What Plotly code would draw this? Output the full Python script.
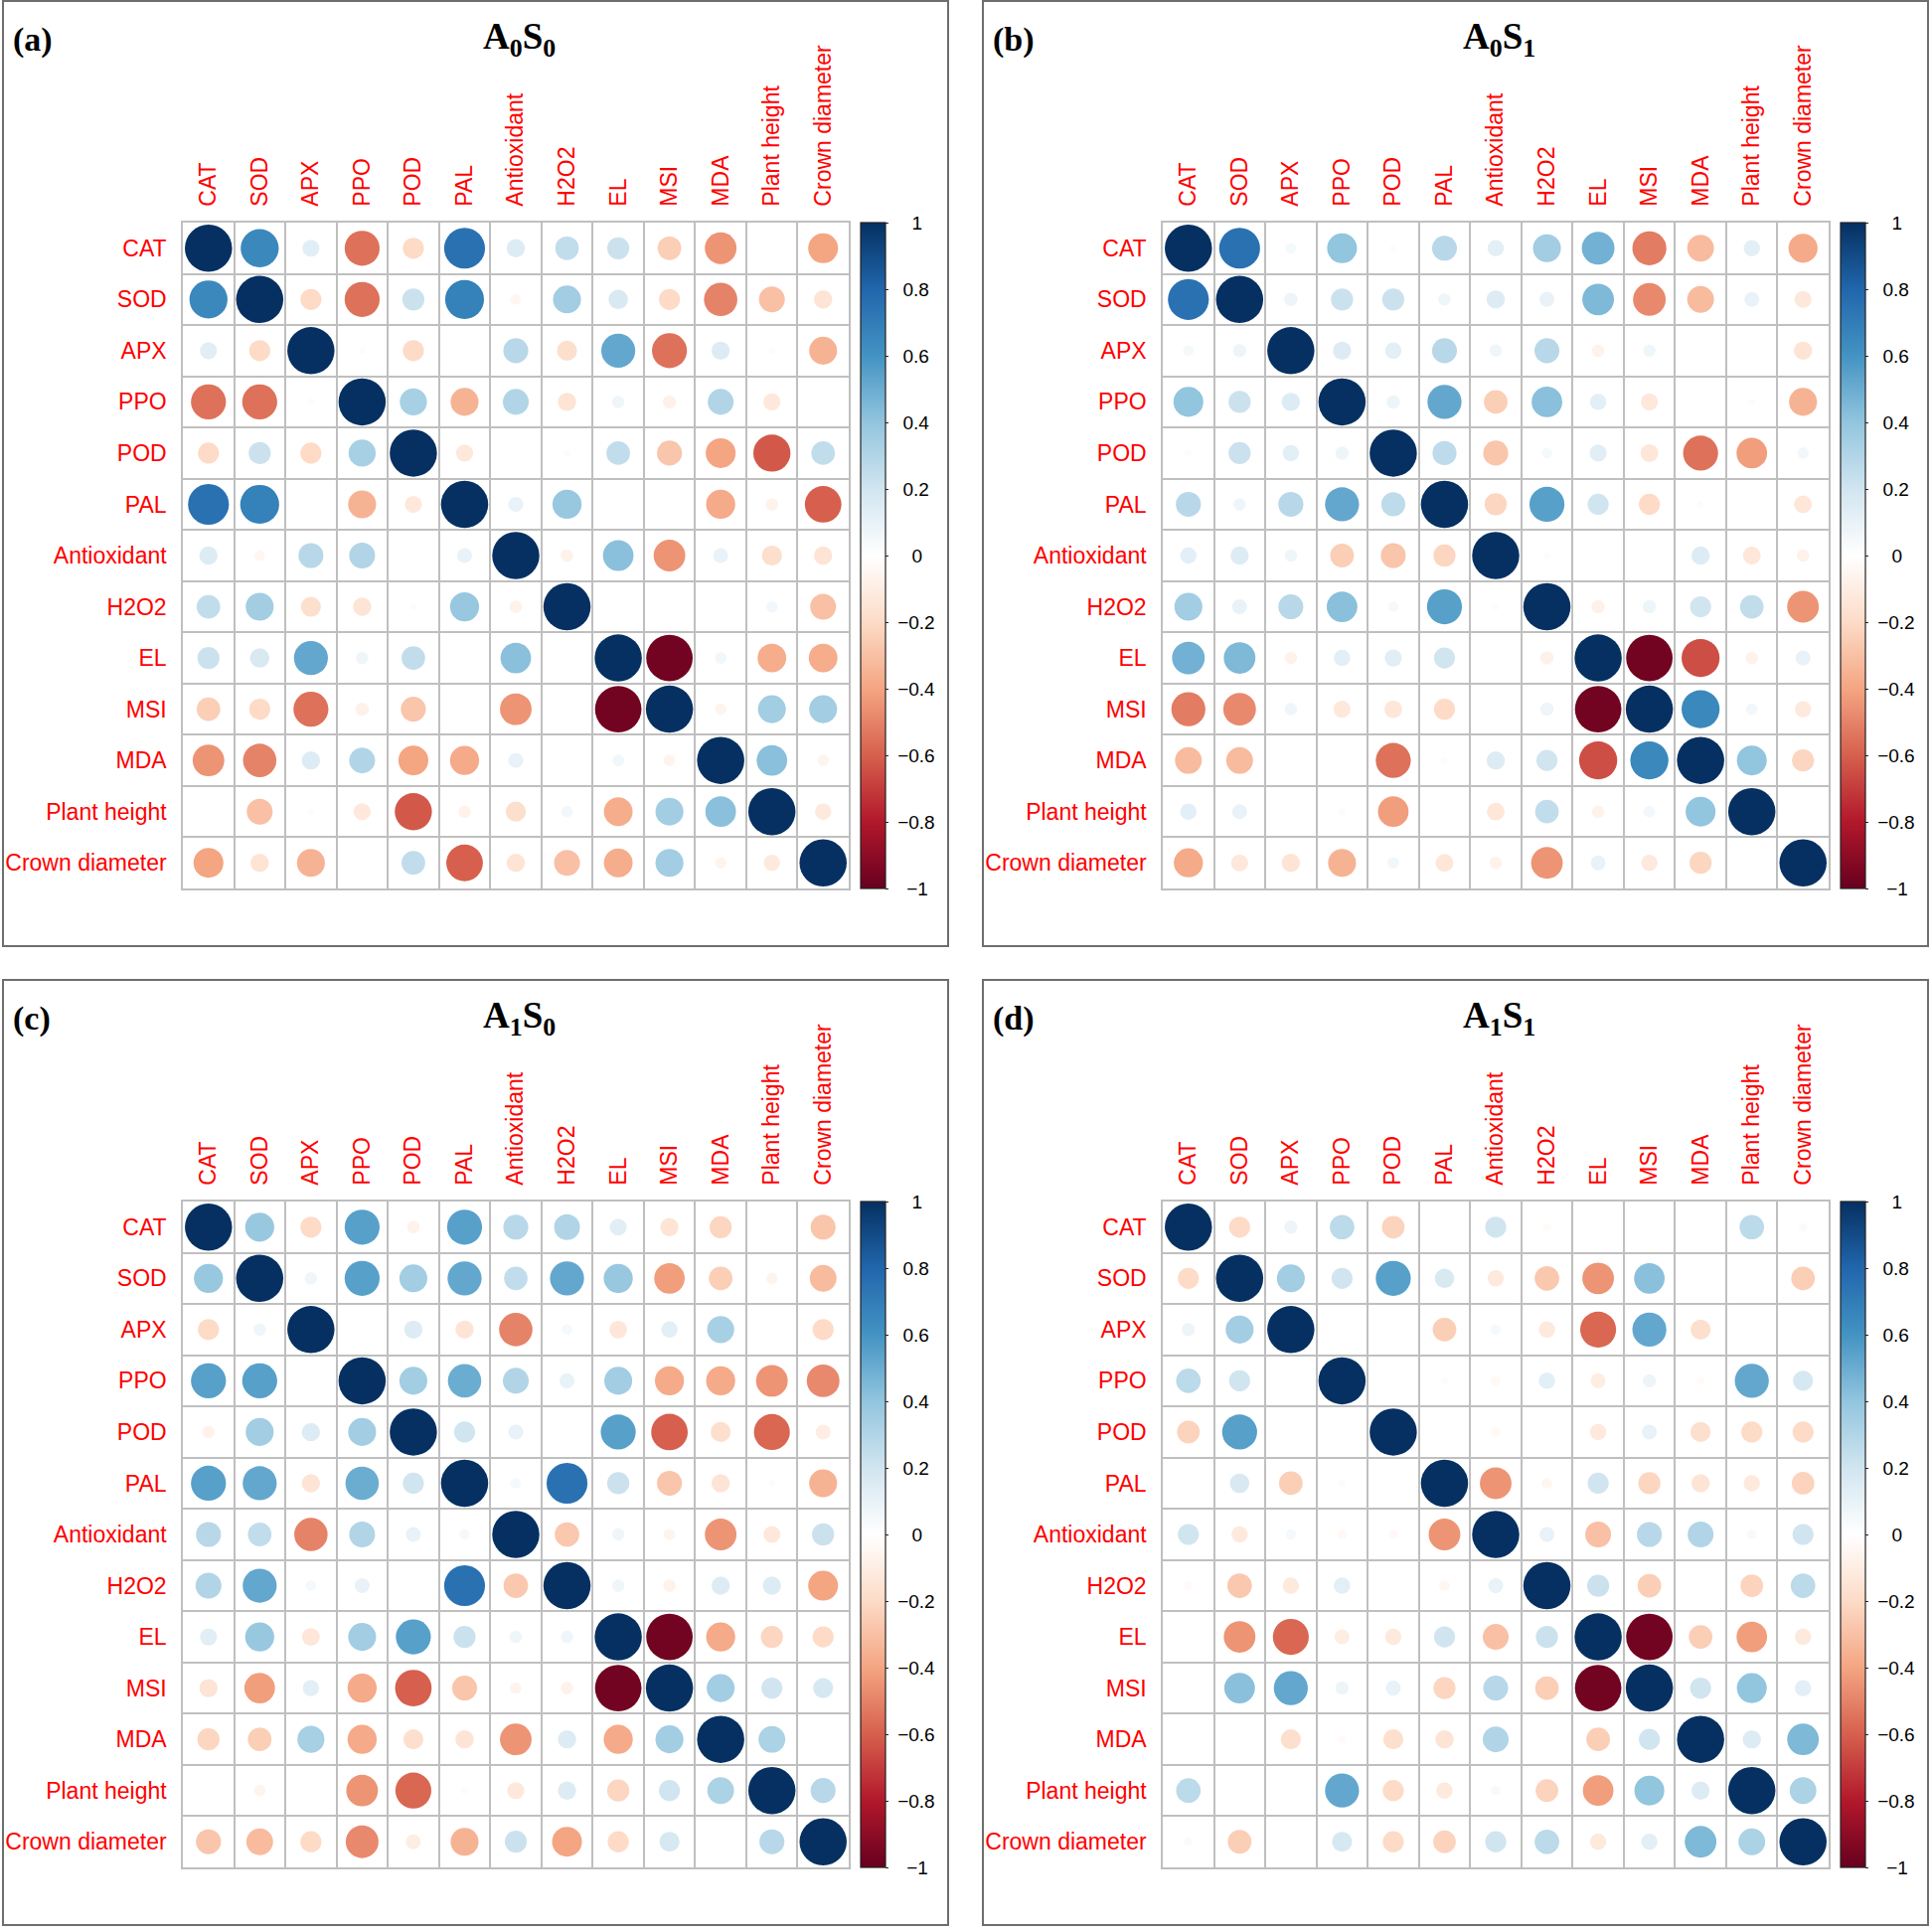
import plotly.graph_objects as go

variables = ["CAT", "SOD", "APX", "PPO", "POD", "PAL", "Antioxidant", "H2O2",
             "EL", "MSI", "MDA", "Plant height", "Crown diameter"]

panel_tags = ["(a)", "(b)", "(c)", "(d)"]
panel_titles = ["A<sub>0</sub>S<sub>0</sub>", "A<sub>0</sub>S<sub>1</sub>",
                "A<sub>1</sub>S<sub>0</sub>", "A<sub>1</sub>S<sub>1</sub>"]

colorbar_ticks = [1, 0.8, 0.6, 0.4, 0.2, 0, -0.2, -0.4, -0.6, -0.8, -1]

# Correlation matrices (rows/cols in the order of `variables`)
corr_a0s0 = [
    [1, 0.65, 0.13, -0.55, -0.2, 0.75, 0.15, 0.25, 0.22, -0.25, -0.45, 0.0, -0.4],
    [0.65, 1, -0.2, -0.55, 0.22, 0.68, -0.05, 0.35, 0.17, -0.2, -0.5, -0.3, -0.15],
    [0.13, -0.2, 1, -0.02, -0.2, 0.0, 0.28, -0.18, 0.52, -0.55, 0.15, 0.02, -0.35],
    [-0.55, -0.55, -0.02, 1, 0.33, -0.35, 0.3, -0.15, 0.07, -0.08, 0.3, -0.13, 0.0],
    [-0.2, 0.22, -0.2, 0.33, 1, -0.13, 0.0, 0.02, 0.25, -0.28, -0.4, -0.62, 0.25],
    [0.75, 0.68, 0.0, -0.35, -0.13, 1, 0.1, 0.38, 0.0, 0.0, -0.38, -0.07, -0.6],
    [0.15, -0.05, 0.28, 0.3, 0.0, 0.1, 1, -0.07, 0.42, -0.45, 0.1, -0.18, -0.15],
    [0.25, 0.35, -0.18, -0.15, 0.02, 0.38, -0.07, 1, 0.0, 0.0, 0.0, 0.06, -0.3],
    [0.22, 0.17, 0.52, 0.07, 0.25, 0.0, 0.42, 0.0, 1, -0.97, 0.06, -0.37, -0.37],
    [-0.25, -0.2, -0.55, -0.08, -0.28, 0.0, -0.45, 0.0, -0.97, 1, -0.06, 0.35, 0.35],
    [-0.45, -0.5, 0.15, 0.3, -0.4, -0.38, 0.1, 0.0, 0.06, -0.06, 1, 0.42, -0.06],
    [0.0, -0.3, 0.02, -0.13, -0.62, -0.07, -0.18, 0.06, -0.37, 0.35, 0.42, 1, -0.12],
    [-0.4, -0.15, -0.35, 0.0, 0.25, -0.6, -0.15, -0.3, -0.37, 0.35, -0.06, -0.12, 1],
]

corr_a0s1 = [
    [1, 0.75, 0.05, 0.4, 0.02, 0.28, 0.12, 0.35, 0.48, -0.52, -0.32, 0.12, -0.38],
    [0.75, 1, 0.08, 0.22, 0.22, 0.07, 0.15, 0.1, 0.45, -0.48, -0.32, 0.1, -0.13],
    [0.05, 0.08, 1, 0.15, 0.12, 0.28, 0.07, 0.28, -0.07, 0.07, 0.0, 0.0, -0.15],
    [0.4, 0.22, 0.15, 1, 0.08, 0.52, -0.25, 0.42, 0.12, -0.13, 0.0, 0.02, -0.35],
    [0.02, 0.22, 0.12, 0.08, 1, 0.26, -0.28, 0.05, 0.13, -0.14, -0.55, -0.42, 0.06],
    [0.28, 0.07, 0.28, 0.52, 0.26, 1, -0.22, 0.55, 0.2, -0.2, 0.02, 0.0, -0.14],
    [0.12, 0.15, 0.07, -0.25, -0.28, -0.22, 1, 0.02, 0.0, 0.0, 0.15, -0.14, -0.07],
    [0.35, 0.1, 0.28, 0.42, 0.05, 0.55, 0.02, 1, -0.08, 0.08, 0.2, 0.25, -0.45],
    [0.48, 0.45, -0.07, 0.12, 0.13, 0.2, 0.0, -0.08, 1, -0.97, -0.65, -0.07, 0.1],
    [-0.52, -0.48, 0.07, -0.13, -0.14, -0.2, 0.0, 0.08, -0.97, 1, 0.65, 0.06, -0.12],
    [-0.32, -0.32, 0.0, 0.0, -0.55, 0.02, 0.15, 0.2, -0.65, 0.65, 1, 0.4, -0.22],
    [0.12, 0.1, 0.0, 0.02, -0.42, 0.0, -0.14, 0.25, -0.07, 0.06, 0.4, 1, 0.01],
    [-0.38, -0.13, -0.15, -0.35, 0.06, -0.14, -0.07, -0.45, 0.1, -0.12, -0.22, 0.01, 1],
]

corr_a1s0 = [
    [1, 0.38, -0.2, 0.55, -0.07, 0.55, 0.28, 0.3, 0.13, -0.15, -0.22, 0.01, -0.28],
    [0.38, 1, 0.07, 0.55, 0.35, 0.52, 0.25, 0.52, 0.38, -0.42, -0.25, -0.06, -0.32],
    [-0.2, 0.07, 1, 0.0, 0.15, -0.15, -0.5, 0.05, -0.14, 0.12, 0.33, 0.0, -0.2],
    [0.55, 0.55, 0.0, 1, 0.35, 0.5, 0.3, 0.1, 0.35, -0.38, -0.38, -0.45, -0.48],
    [-0.07, 0.35, 0.15, 0.35, 1, 0.2, 0.1, 0.0, 0.55, -0.6, -0.18, -0.58, -0.1],
    [0.55, 0.52, -0.15, 0.5, 0.2, 1, 0.05, 0.75, 0.22, -0.28, -0.15, 0.02, -0.35],
    [0.28, 0.25, -0.5, 0.3, 0.1, 0.05, 1, -0.27, 0.07, -0.06, -0.45, -0.13, 0.22],
    [0.3, 0.52, 0.05, 0.1, 0.0, 0.75, -0.27, 1, 0.07, -0.07, 0.15, 0.15, -0.4],
    [0.13, 0.38, -0.14, 0.35, 0.55, 0.22, 0.07, 0.07, 1, -0.97, -0.38, -0.22, -0.2],
    [-0.15, -0.42, 0.12, -0.38, -0.6, -0.28, -0.06, -0.07, -0.97, 1, 0.35, 0.2, 0.18],
    [-0.22, -0.25, 0.33, -0.38, -0.18, -0.15, -0.45, 0.15, -0.38, 0.35, 1, 0.32, 0.01],
    [0.01, -0.06, 0.0, -0.45, -0.58, 0.02, -0.13, 0.15, -0.22, 0.2, 0.32, 1, 0.28],
    [-0.28, -0.32, -0.2, -0.48, -0.1, -0.35, 0.22, -0.4, -0.2, 0.18, 0.01, 0.28, 1],
]

corr_a1s1 = [
    [1, -0.2, 0.08, 0.27, -0.23, 0.01, 0.2, -0.03, 0.0, 0.0, 0.0, 0.27, 0.03],
    [-0.2, 1, 0.35, 0.2, 0.55, 0.17, -0.12, -0.27, -0.45, 0.42, 0.01, 0.01, -0.25],
    [0.08, 0.35, 1, 0.0, 0.0, -0.25, 0.05, -0.12, -0.58, 0.52, -0.18, 0.0, 0.01],
    [0.27, 0.2, 0.0, 1, 0.0, 0.02, -0.04, 0.12, -0.1, 0.08, -0.03, 0.52, 0.18],
    [-0.23, 0.55, 0.0, 0.0, 1, 0.0, -0.04, 0.01, -0.12, 0.1, -0.18, -0.2, -0.2],
    [0.01, 0.17, -0.25, 0.02, 0.0, 1, -0.45, -0.05, 0.2, -0.22, -0.15, -0.12, -0.23],
    [0.2, -0.12, 0.05, -0.04, -0.04, -0.45, 1, 0.1, -0.3, 0.28, 0.3, 0.04, 0.2],
    [-0.03, -0.27, -0.12, 0.12, 0.01, -0.05, 0.1, 1, 0.22, -0.25, 0.01, -0.23, 0.27],
    [0.0, -0.45, -0.58, -0.1, -0.12, 0.2, -0.3, 0.22, 1, -0.97, -0.25, -0.42, -0.12],
    [0.0, 0.42, 0.52, 0.08, 0.1, -0.22, 0.28, -0.25, -0.97, 1, 0.2, 0.4, 0.12],
    [0.0, 0.01, -0.18, -0.03, -0.18, -0.15, 0.3, 0.01, -0.25, 0.2, 1, 0.15, 0.45],
    [0.27, 0.01, 0.0, 0.52, -0.2, -0.12, 0.04, -0.23, -0.42, 0.4, 0.15, 1, 0.32],
    [0.03, -0.25, 0.01, 0.18, -0.2, -0.23, 0.2, 0.27, -0.12, 0.12, 0.45, 0.32, 1],
]

matrices = [corr_a0s0, corr_a0s1, corr_a1s0, corr_a1s1]

# ---------------------------------------------------------------- styling
W, H = 1944, 1942
RDBU = [[0.0, "#67001F"], [0.1, "#B2182B"], [0.2, "#D6604D"], [0.3, "#F4A582"],
        [0.4, "#FDDBC7"], [0.5, "#FFFFFF"], [0.6, "#D1E5F0"], [0.7, "#92C5DE"],
        [0.8, "#4393C3"], [0.9, "#2166AC"], [1.0, "#053061"]]
MAXD = 47.5           # diameter (px) of a |r| = 1 circle
GRID_SIZE = 670       # px
# panel frame origins (left, top), px
frames = [(3, 1), (989, 1), (3, 986), (989, 986)]
FRAME_W, FRAME_H = 951, 951
GRID_DX, GRID_DY = 181, 223   # grid offset inside frame

n = len(variables)
fig = go.Figure()
layout = dict(width=W, height=H, margin=dict(l=0, r=0, t=0, b=0),
              paper_bgcolor="white", plot_bgcolor="white", showlegend=False,
              autosize=False)
shapes, annotations = [], []


def px(x):
    return x / W


def py(y):
    return 1 - y / H


NB = "\u00a0"
THIN = "\u2009"


def fmt(v):
    s = ("−" + str(abs(v))) if v < 0 else str(v)
    # roughly centre the labels, like R's colour legend
    if v < 0 and v != -1:
        pad = NB
    elif v == -1:
        pad = NB + NB + THIN
    elif v in (0, 1):
        pad = NB + NB + NB + THIN
    else:
        pad = NB + NB
    return pad + s


for k, mat in enumerate(matrices):
    fx, fy = frames[k]
    gx0 = fx + GRID_DX
    gy0 = fy + GRID_DY
    xs, ys, cs, ss = [], [], [], []
    for i in range(n):
        for j in range(n):
            r = mat[i][j]
            xs.append(j)
            ys.append(i)
            cs.append(r)
            ss.append(MAXD * abs(r) ** 0.5)
    sfx = "" if k == 0 else str(k + 1)
    fig.add_trace(go.Scatter(
        x=xs, y=ys, mode="markers", xaxis="x" + sfx, yaxis="y" + sfx,
        hoverinfo="skip",
        marker=dict(size=ss, sizemode="diameter", color=cs, colorscale=RDBU,
                    cmin=-1, cmax=1, line=dict(width=0), opacity=1,
                    showscale=True,
                    colorbar=dict(
                        x=px(gx0 + GRID_SIZE + 12), xanchor="left",
                        y=py(gy0 + GRID_SIZE / 2), yanchor="middle",
                        len=GRID_SIZE, lenmode="pixels",
                        thickness=25, thicknessmode="pixels",
                        xpad=0, ypad=0, outlinewidth=1.2, outlinecolor="#222",
                        ticks="outside", ticklen=3, tickcolor="#222",
                        tickvals=colorbar_ticks,
                        ticktext=[fmt(v) for v in colorbar_ticks],
                        tickfont=dict(family="Liberation Sans, Arial", size=19, color="black"),
                    ))))
    minor_vals = [v - 0.5 for v in range(n + 1)]
    axis_common = dict(
        showgrid=False, zeroline=False, showline=True, mirror=True,
        linecolor="#bfbfbf", linewidth=1.5,
        tickmode="array", tickvals=list(range(n)), ticktext=variables,
        tickfont=dict(family="Liberation Sans, Arial", size=23, color="#FF0000"),
        ticks="", ticklabelstandoff=10,
        minor=dict(tickmode="array", tickvals=minor_vals, showgrid=True,
                   gridcolor="#bfbfbf", gridwidth=1.5, ticks=""),
        fixedrange=True,
    )
    layout["xaxis" + sfx] = dict(
        axis_common, domain=[px(gx0), px(gx0 + GRID_SIZE)],
        range=[-0.5, n - 0.5], side="top", tickangle=-90,
        anchor="y" + sfx)
    layout["yaxis" + sfx] = dict(
        axis_common, domain=[py(gy0 + GRID_SIZE), py(gy0)],
        range=[n - 0.5, -0.5], anchor="x" + sfx)

    shapes.append(dict(type="rect", xref="paper", yref="paper",
                       x0=px(fx), x1=px(fx + FRAME_W), y0=py(fy + FRAME_H), y1=py(fy),
                       line=dict(color="#6e6e6e", width=2), fillcolor="rgba(0,0,0,0)",
                       layer="below"))
    annotations.append(dict(text="<b>" + panel_tags[k] + "</b>", xref="paper", yref="paper",
                            x=px(fx + 8), y=py(fy + 39), xanchor="left", yanchor="middle",
                            showarrow=False,
                            font=dict(family="Liberation Serif, Times New Roman", size=34,
                                      color="black")))
    annotations.append(dict(text="<b>" + panel_titles[k] + "</b>", xref="paper", yref="paper",
                            x=px(gx0 + GRID_SIZE / 2 + 3), y=py(fy + 38), xanchor="center",
                            yanchor="middle", showarrow=False,
                            font=dict(family="Liberation Serif, Times New Roman", size=37,
                                      color="black")))

layout["shapes"] = shapes
layout["annotations"] = annotations
fig.update_layout(**layout)
fig.write_html("out.html", config={"displayModeBar": False},
               post_script="document.body.style.margin='0px';document.body.style.padding='0px';")
